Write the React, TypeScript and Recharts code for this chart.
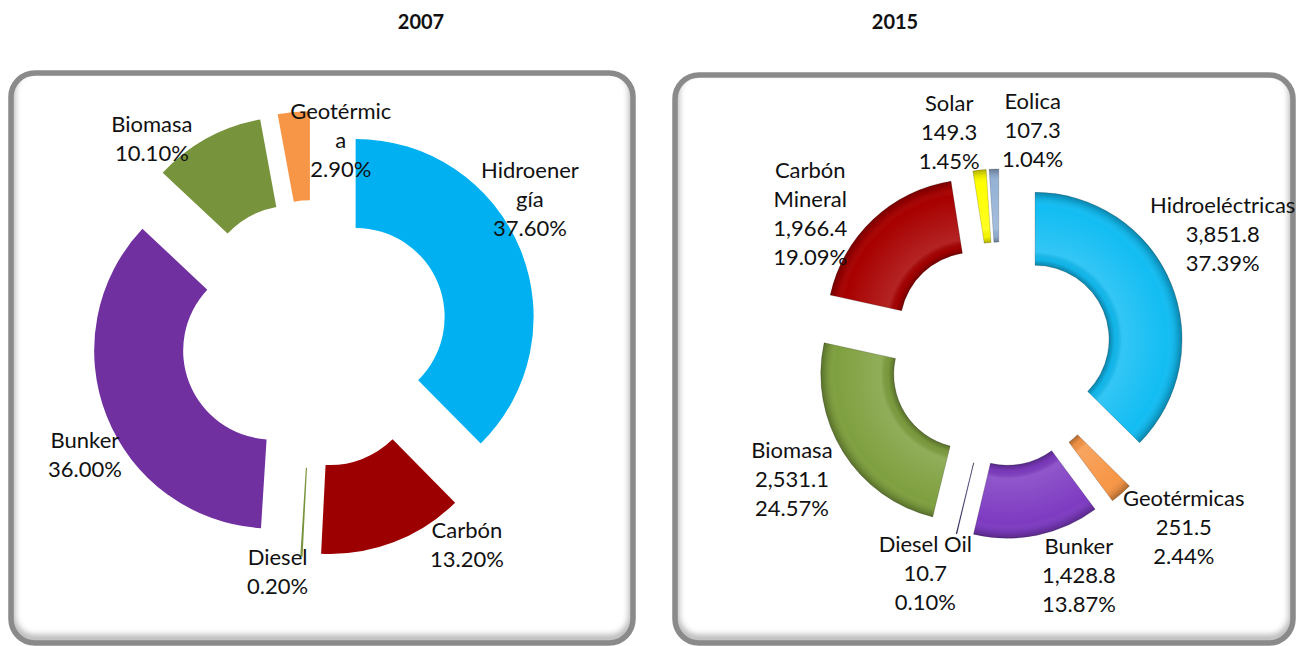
import { PieChart, Pie, Cell, Sector } from 'recharts'

// 2007 – participación por fuente (%)
const cats2007 = ['Hidroenergía', 'Carbón', 'Diesel', 'Bunker', 'Biomasa', 'Geotérmica']
const pct2007 = [37.6, 13.2, 0.2, 36.0, 10.1, 2.9]
const colors2007 = ['#00B0F0', '#9C0000', '#77933C', '#7030A0', '#77933C', '#F79646']

// 2015 – generación (GWh) y participación (%)
const cats2015 = ['Hidroeléctricas', 'Geotérmicas', 'Bunker', 'Diesel Oil', 'Biomasa', 'Carbón Mineral', 'Solar', 'Eolica']
const gwh2015 = [3851.8, 251.5, 1428.8, 10.7, 2531.1, 1966.4, 149.3, 107.3]
const pct2015 = [37.39, 2.44, 13.87, 0.1, 24.57, 19.09, 1.45, 1.04]
const colors2015 = ['#12BDF3', '#F79646', '#7E3BC2', '#3B2A80', '#7FA03F', '#A80000', '#FFFF00', '#95B3D7']

// how the long names wrap inside the labels
const wrap: Record<string, string[]> = {
  'Hidroenergía': ['Hidroener', 'gía'],
  'Geotérmica': ['Geotérmic', 'a'],
  'Carbón Mineral': ['Carbón', 'Mineral'],
}

// label nudges (layout only), applied after placing on the slice bisector
const nudge2007 = [[-20, -38], [62, -28], [-22, -17], [8, 27], [-40, 28], [50, 60]]
const nudge2015 = [[16, -34], [37, 4], [34, 2], [-22, 1], [-18, 6], [-36, 22], [-26, 1], [40, 0]]

const fmt = (v: number) =>
  v.toLocaleString('en-US', { minimumFractionDigits: 1, maximumFractionDigits: 1 })
const fmtPct = (v: number) => `${v.toFixed(2)}%`

const data2007 = cats2007.map((name, i) => ({
  name,
  value: pct2007[i],
  lines: [...(wrap[name] || [name]), fmtPct(pct2007[i])],
}))

const data2015 = cats2015.map((name, i) => ({
  name,
  value: gwh2015[i],
  lines: [...(wrap[name] || [name]), fmt(gwh2015[i]), fmtPct(pct2015[i])],
}))

const RAD = Math.PI / 180
const FONT = 'Lato, "Open Sans", sans-serif'

const explode = (d: number, bevel: boolean) => (props: any) => {
  const ox = props.cx + d * Math.cos(-props.midAngle * RAD)
  const oy = props.cy + d * Math.sin(-props.midAngle * RAD)
  if (!bevel) return <Sector {...props} cx={ox} cy={oy} stroke="none" />
  const k = props.innerRadius / props.outerRadius
  const gid = `bevel-${props.index}`
  return (
    <g>
      <defs>
        <radialGradient id={gid} gradientUnits="userSpaceOnUse" cx={ox} cy={oy} r={props.outerRadius}>
          <stop offset={k} stopColor="#000" stopOpacity={0.3} />
          <stop offset={k + 0.04} stopColor="#000" stopOpacity={0.04} />
          <stop offset={k + 0.09} stopColor="#fff" stopOpacity={0.14} />
          <stop offset={0.9} stopColor="#fff" stopOpacity={0} />
          <stop offset={0.96} stopColor="#000" stopOpacity={0.1} />
          <stop offset={1} stopColor="#000" stopOpacity={0.3} />
        </radialGradient>
      </defs>
      <Sector {...props} cx={ox} cy={oy} stroke="rgba(0,0,0,0.18)" strokeWidth={1} />
      <Sector
        cx={ox}
        cy={oy}
        innerRadius={props.innerRadius}
        outerRadius={props.outerRadius}
        startAngle={props.startAngle}
        endAngle={props.endAngle}
        fill={`url(#${gid})`}
        stroke="none"
      />
    </g>
  )
}

const makeLabel = (nudges: number[][], fontSize: number, lineH: number) => (p: any) => {
  const r = p.outerRadius + 77
  const x = p.cx + r * Math.cos(-p.midAngle * RAD) + nudges[p.index][0]
  const y = p.cy + r * Math.sin(-p.midAngle * RAD) + nudges[p.index][1]
  const lines: string[] = p.payload.lines
  const y0 = y - ((lines.length - 1) * lineH) / 2 + fontSize * 0.36
  return (
    <text key={`l-${p.index}`} textAnchor="middle" fontSize={fontSize} fill="#111" fontFamily={FONT}>
      {lines.map((t, i) => (
        <tspan key={i} x={x} y={y0 + i * lineH}>
          {t}
        </tspan>
      ))}
    </text>
  )
}

function Panels() {
  const panels = [
    { id: 'a', x: 11, y: 73, w: 622, h: 570 },
    { id: 'b', x: 675, y: 75, w: 618, h: 568 },
  ]
  return (
    <svg width={1297} height={646} style={{ position: 'absolute', left: 0, top: 0 }}>
      <defs>
        <filter id="soft" x="-10%" y="-10%" width="120%" height="120%">
          <feGaussianBlur stdDeviation="3" />
        </filter>
        {panels.map((p) => (
          <clipPath key={p.id} id={`clip-${p.id}`}>
            <rect x={p.x} y={p.y} width={p.w} height={p.h} rx={24} />
          </clipPath>
        ))}
      </defs>
      {panels.map((p) => (
        <g key={p.id}>
          <rect x={p.x} y={p.y} width={p.w} height={p.h} rx={24} fill="#fff" />
          <g clipPath={`url(#clip-${p.id})`}>
            <rect
              x={p.x}
              y={p.y - 6}
              width={p.w}
              height={p.h + 2}
              rx={24}
              fill="none"
              stroke="#000"
              strokeOpacity={0.3}
              strokeWidth={8}
              filter="url(#soft)"
            />
          </g>
          <rect x={p.x} y={p.y} width={p.w} height={p.h} rx={24} fill="none" stroke="#8A8A8A" strokeWidth={5.5} />
        </g>
      ))}
      <text x={421} y={29} textAnchor="middle" fontFamily={FONT} fontWeight={700} fontSize={20} fill="#111">
        2007
      </text>
      <text x={895} y={29} textAnchor="middle" fontFamily={FONT} fontWeight={700} fontSize={20} fill="#111">
        2015
      </text>
    </svg>
  )
}

export default function App() {
  return (
    <div
      style={{
        position: 'absolute',
        left: 0,
        top: 0,
        width: 1297,
        height: 646,
        overflow: 'hidden',
        background: '#fff',
        fontFamily: FONT,
      }}
    >
      <Panels />
      <div style={{ position: 'absolute', left: 0, top: 0 }}>
        <PieChart width={1297} height={646} margin={{ top: 0, right: 0, bottom: 0, left: 0 }}>
          <Pie
            data={data2007}
            dataKey="value"
            nameKey="name"
            cx={314}
            cy={334}
            innerRadius={89}
            outerRadius={178}
            startAngle={90}
            endAngle={-270}
            stroke="none"
            shape={explode(45, false)}
            label={makeLabel(nudge2007, 22, 29)}
            labelLine={false}
            isAnimationActive={false}
          >
            {data2007.map((d, i) => (
              <Cell key={d.name} fill={colors2007[i]} />
            ))}
          </Pie>
          <Pie
            data={data2015}
            dataKey="value"
            nameKey="name"
            cx={1000}
            cy={354}
            innerRadius={74}
            outerRadius={147}
            startAngle={90}
            endAngle={-270}
            stroke="none"
            shape={explode(38, true)}
            label={makeLabel(nudge2015, 22, 29)}
            labelLine={false}
            isAnimationActive={false}
          >
            {data2015.map((d, i) => (
              <Cell key={d.name} fill={colors2015[i]} />
            ))}
          </Pie>
        </PieChart>
      </div>
    </div>
  )
}
